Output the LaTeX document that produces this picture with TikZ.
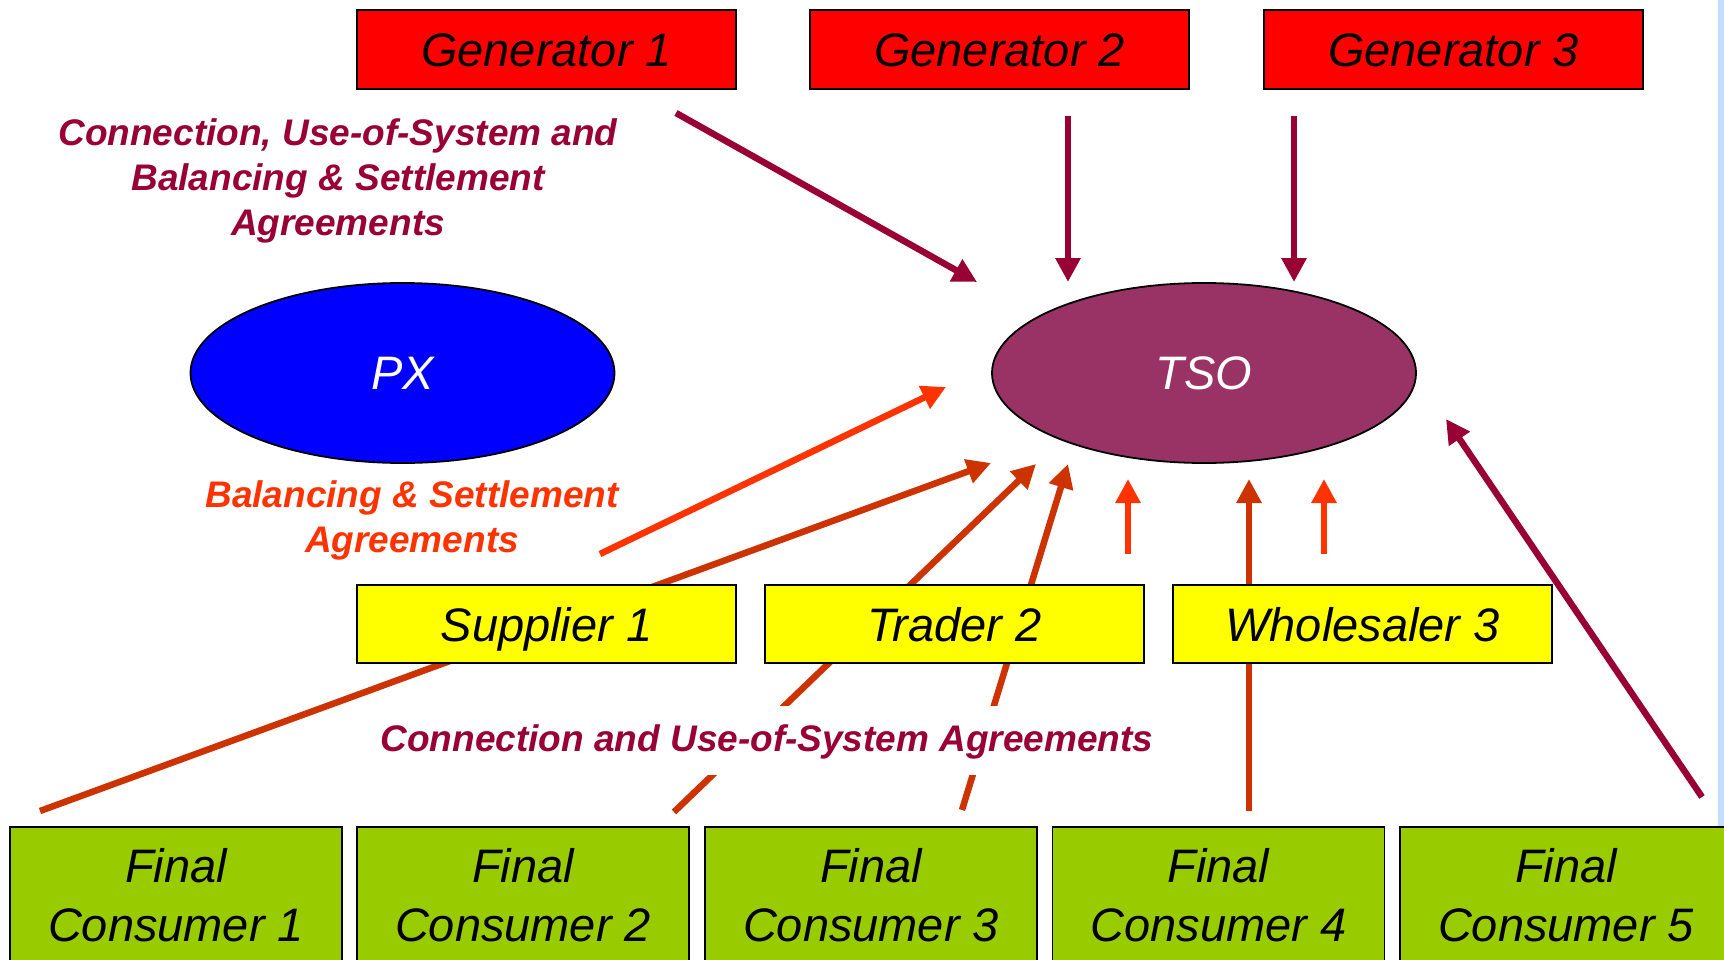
\documentclass[tikz,border=0pt]{standalone}
\usepackage{fontspec}
\setmainfont{Liberation Sans}
\usetikzlibrary{arrows.meta,shapes.geometric}
\definecolor{genred}{HTML}{FF0000}
\definecolor{tradeyellow}{HTML}{FFFF00}
\definecolor{consgreen}{HTML}{99CC00}
\definecolor{pxblue}{HTML}{0000FF}
\definecolor{tsopurple}{HTML}{993366}
\definecolor{wine}{HTML}{990033}
\definecolor{rust}{HTML}{CC3300}
\definecolor{flame}{HTML}{FF3300}
\definecolor{edgeblue}{HTML}{C2DFFF}

\begin{document}
\begin{tikzpicture}[x=1pt,y=-1pt,
  box/.style={draw=black, line width=1.8pt, minimum width=379pt, minimum height=79pt,
    inner sep=0pt, font=\fontsize{47}{57}\selectfont\itshape, text height=34pt, text depth=0pt},
  genbox/.style={box, fill=genred},
  midbox/.style={box, fill=tradeyellow, minimum height=78pt},
  consbox/.style={draw=black, line width=1.8pt, fill=consgreen, minimum width=332pt,
    minimum height=137pt, inner sep=0pt, align=center, font=\fontsize{47}{59}\selectfont\itshape},
  market/.style={ellipse, draw=black, line width=1.8pt, minimum width=424pt, minimum height=180pt,
    inner sep=0pt, text=white, font=\fontsize{47}{57}\selectfont\itshape},
  agree/.style={align=center, inner sep=0pt, font=\fontsize{37}{45}\selectfont\bfseries\itshape},
  link/.style={line width=6.5pt, -{Triangle[length=24pt,width=24pt]}},
]
\useasboundingbox (0,0) rectangle (1724,960);

% light strip along the right edge
\fill[edgeblue] (1718,0) rectangle (1724,826);

% arrow end points
\coordinate (g1a) at (676,113);  \coordinate (g1b) at (977,282);
\coordinate (g2a) at (1068,116); \coordinate (g2b) at (1068,282);
\coordinate (g3a) at (1294,116); \coordinate (g3b) at (1294,282);
\coordinate (bsa) at (600,554);  \coordinate (bsb) at (946,387);
\coordinate (c1a) at (40,811);   \coordinate (c1b) at (991,463);
\coordinate (c2a) at (674,812);  \coordinate (c2b) at (1036,464);
\coordinate (c3a) at (962,810);  \coordinate (c3b) at (1068,464);
\coordinate (s1a) at (1128,554); \coordinate (s1b) at (1128,479);
\coordinate (c4a) at (1249,811); \coordinate (c4b) at (1249,479);
\coordinate (s2a) at (1324,554); \coordinate (s2b) at (1324,479);
\coordinate (c5a) at (1702,797); \coordinate (c5b) at (1446,419);

% agreements towards the TSO
\draw[link, wine] (g1a) -- (g1b);
\draw[link, wine] (g2a) -- (g2b);
\draw[link, wine] (g3a) -- (g3b);
\draw[link, flame] (bsa) -- (bsb);
\draw[link, rust] (c1a) -- (c1b);
\draw[link, rust] (c2a) -- (c2b);
\draw[link, rust] (c3a) -- (c3b);
\draw[link, flame] (s1a) -- (s1b);
\draw[link, rust] (c4a) -- (c4b);
\draw[link, flame] (s2a) -- (s2b);
\draw[link, wine] (c5a) -- (c5b);

% generators
\node[genbox] (gen1) at (546.5,49.5) {Generator 1};
\node[genbox] (gen2) at (999.5,49.5) {Generator 2};
\node[genbox] (gen3) at (1453.5,49.5) {Generator 3};

% market operators
\node[market, fill=pxblue] (px) at (402.5,373) {PX};
\node[market, fill=tsopurple] (tso) at (1204,373) {TSO};

% intermediaries
\node[midbox] (sup1) at (546.5,624) {Supplier 1};
\node[midbox] (trd2) at (954.5,624) {Trader 2};
\node[midbox] (whl3) at (1362.5,624) {Wholesaler 3};

% final consumers
\node[consbox] (fc1) at (176,895.5) {Final\\Consumer 1};
\node[consbox] (fc2) at (523,895.5) {Final\\Consumer 2};
\node[consbox] (fc3) at (871,895.5) {Final\\Consumer 3};
\node[consbox] (fc4) at (1218.5,895.5) {Final\\Consumer 4};
\node[consbox] (fc5) at (1566,895.5) {Final\\Consumer 5};

% agreement labels
\node[agree, text=wine] (lblgen) at (338,181.4)
  {Connection, Use-of-System and\\Balancing \& Settlement\\Agreements};
\node[agree, text=flame] (lblbs) at (412,520.9)
  {Balancing \& Settlement\\Agreements};
\node[agree, text=wine, fill=white, anchor=base, text height=27pt, text depth=6pt,
  inner xsep=6pt, inner ysep=18pt] (lblcon) at (767,751)
  {Connection and Use-of-System Agreements};
\end{tikzpicture}
\end{document}
